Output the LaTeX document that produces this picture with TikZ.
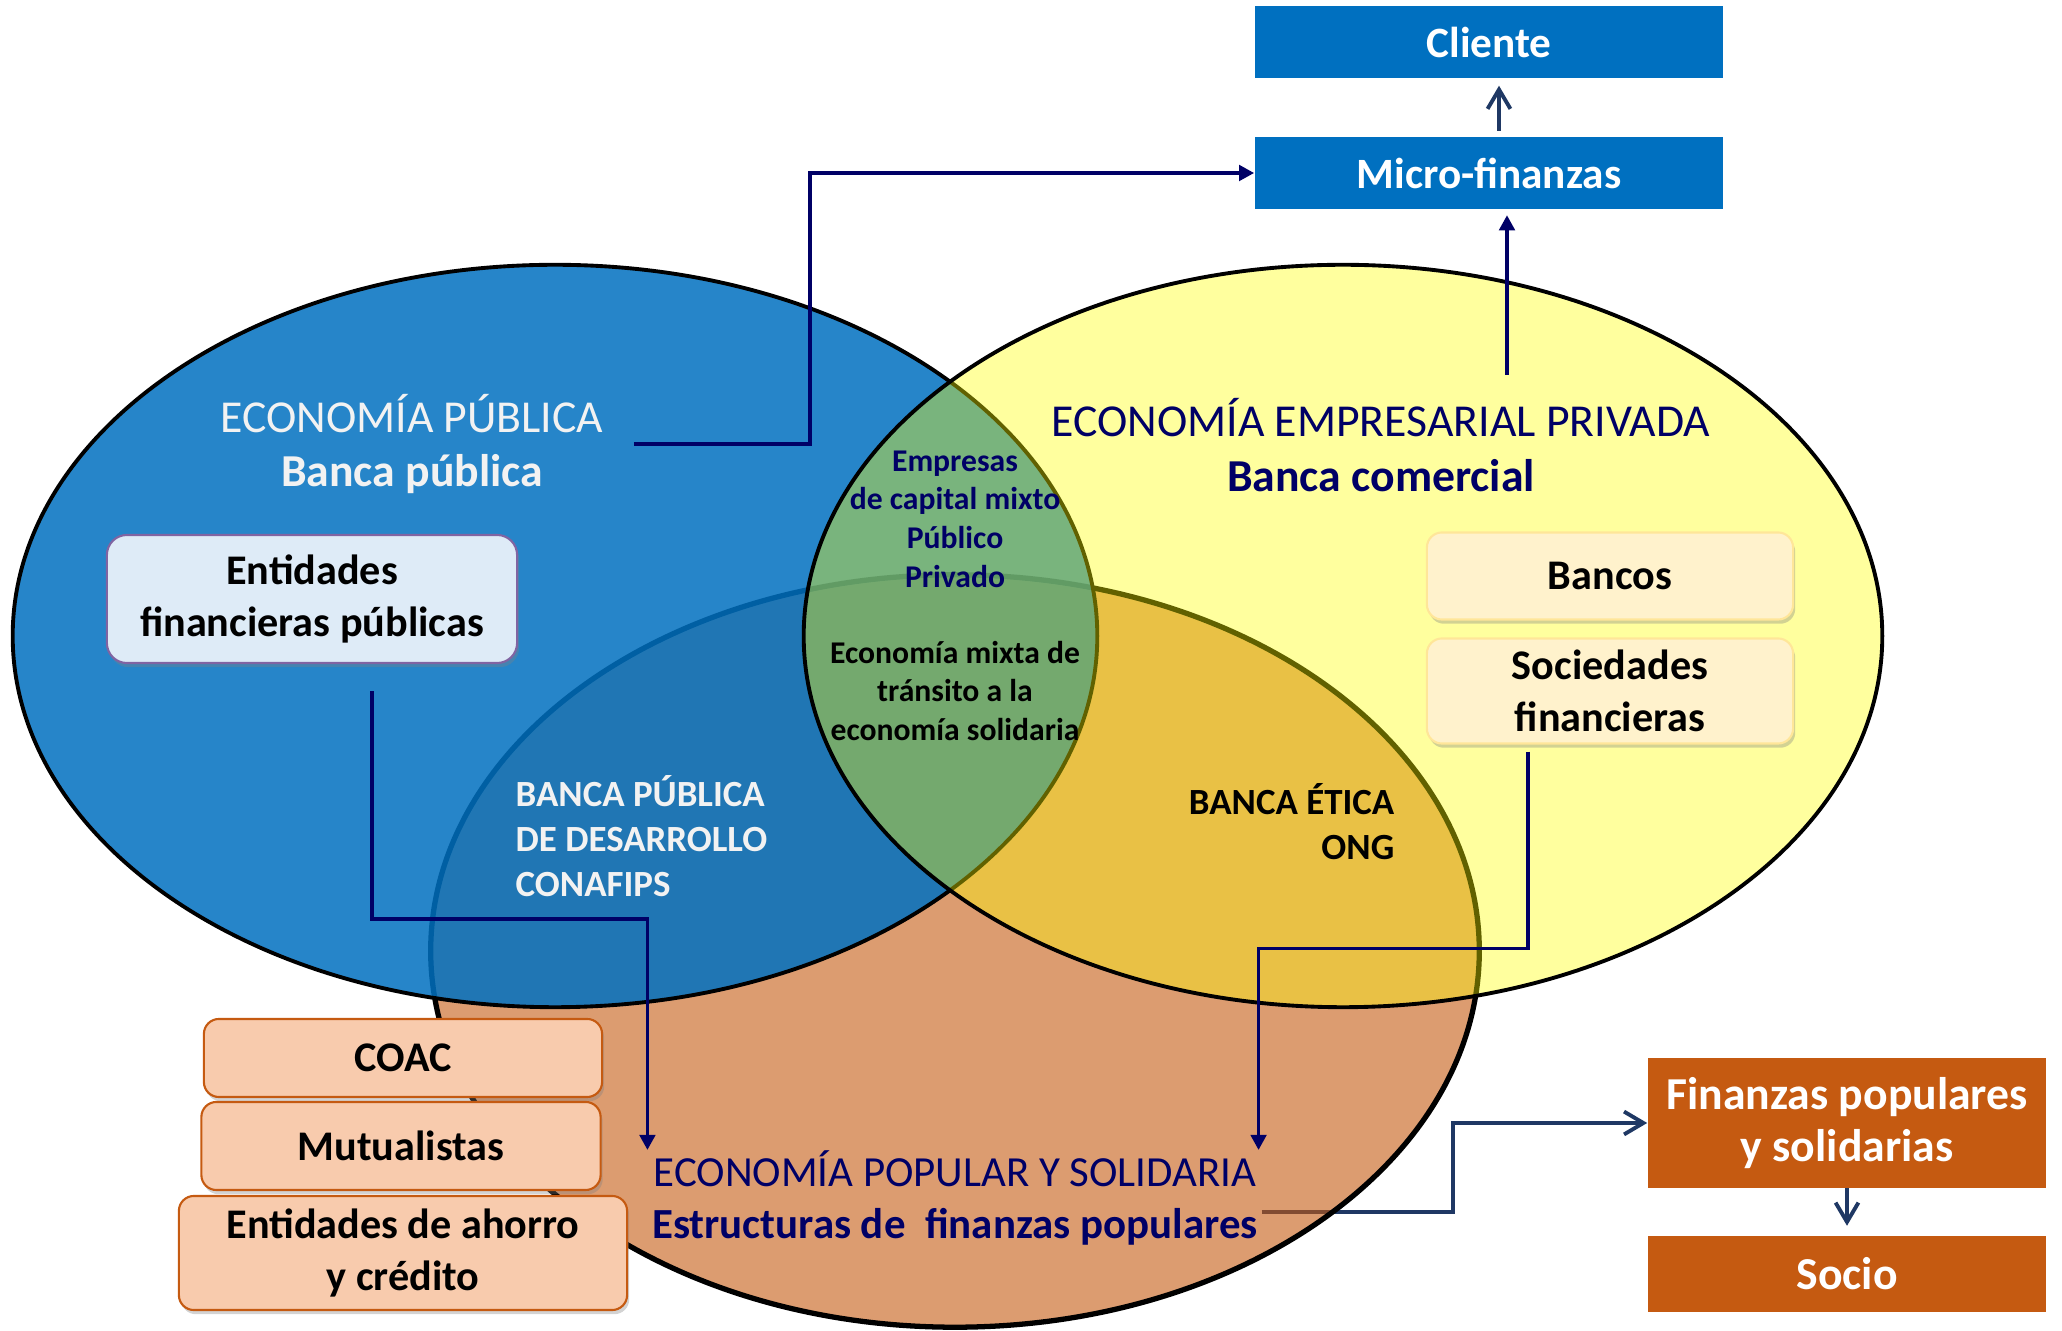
\documentclass[tikz,border=0pt]{standalone}
\usepackage{fontspec}
\setmainfont{Carlito}
\usepackage{tikz}
\usetikzlibrary{arrows.meta}
\usetikzlibrary{shadows}
\pgfdeclarelayer{background}
\pgfsetlayers{background,main}
\definecolor{pubblue}{RGB}{0,112,192}
\definecolor{privyellow}{RGB}{255,255,0}
\definecolor{popbrown}{RGB}{197,90,17}
\definecolor{navytext}{RGB}{0,0,102}
\definecolor{slate}{RGB}{31,56,100}
\definecolor{offwhite}{RGB}{242,242,242}
\definecolor{entfill}{RGB}{222,235,247}
\definecolor{entline}{RGB}{128,100,162}
\definecolor{bankfill}{RGB}{255,242,204}
\definecolor{bankline}{RGB}{255,230,153}
\definecolor{coopfill}{RGB}{248,203,173}
\tikzset{flow/.style = {draw=navytext, line width=1pt, -{Triangle[length=4.3pt, width=4.4pt]}}}
\tikzset{openflow/.style = {draw=slate, line width=1.1pt, -{Straight Barb[length=5.5pt, width=6.5pt]}}}
\tikzset{lbl/.style = {inner sep=0, align=center, font=\fontsize{13}{15.6}\selectfont}}
\tikzset{solidbox/.style = {fill=#1, text=white, inner sep=0, align=center,
                            font=\fontsize{13}{15}\selectfont\bfseries}}
\tikzset{softbox/.style = {rounded corners=0.15cm, line width=0.6pt, inner sep=0, align=center,
                           font=\fontsize{12}{14.7}\selectfont\bfseries,
                           drop shadow={shadow xshift=0.6pt, shadow yshift=-1.2pt, opacity=0.35}}}
\tikzset{pubbox/.style = {softbox, draw=entline, fill=entfill, rounded corners=0.2cm}}
\tikzset{bankbox/.style = {softbox, draw=bankline, fill=bankfill}}
\tikzset{coopbox/.style = {softbox, draw=popbrown, fill=coopfill}}

\begin{document}
\begin{tikzpicture}[x=0.01cm, y=-0.01cm]
    \useasboundingbox (0, 0) rectangle (2062, 1331);

    \node [solidbox=pubblue, font=\fontsize{12.3}{15}\selectfont\bfseries, minimum width=4.68cm, minimum height=0.72cm] (cliente) at (1489, 42) {Cliente};
    \node [solidbox=pubblue, font=\fontsize{12.3}{15}\selectfont\bfseries, minimum width=4.68cm, minimum height=0.71cm] (micro) at (1489, 173) {Micro-finanzas};
    \node [solidbox=popbrown, minimum width=3.98cm, minimum height=1.29cm] (fin) at (1847, 1123) {Finanzas populares\\y solidarias};
    \node [solidbox=popbrown, minimum width=3.98cm, minimum height=0.75cm] (socio) at (1847, 1274) {Socio};

    \node [pubbox, minimum width=4.1cm, minimum height=1.28cm] (entpub) at (312, 599) {Entidades\\financieras públicas};
    \node [bankbox, minimum width=3.66cm, minimum height=0.87cm] (bancos) at (1610, 576) {Bancos};
    \node [bankbox, minimum width=3.66cm, minimum height=1.05cm] (socfin) at (1610, 691) {Sociedades\\financieras};
    \node [coopbox, minimum width=3.98cm, minimum height=0.78cm] (coac) at (403, 1058) {COAC};
    \node [coopbox, minimum width=3.99cm, minimum height=0.88cm] (mutual) at (401, 1146) {Mutualistas};
    \node [coopbox, minimum width=4.48cm, minimum height=1.14cm] (ahorro) at (403, 1253) {Entidades de ahorro\\y crédito};

    \node [lbl, text=offwhite] (pub) at (412, 444) {ECONOMÍA PÚBLICA\\\textbf{Banca pública}};
    \node [lbl, text=navytext] (priv) at (1381, 445) {ECONOMÍA EMPRESARIAL PRIVADA\\\textbf{Banca comercial}};
    \node [lbl, text=navytext, font=\fontsize{12.2}{14.8}\selectfont] (eps) at (955, 1198) {ECONOMÍA POPULAR Y SOLIDARIA\\\textbf{Estructuras de~ finanzas populares}};
    \node [lbl, text=navytext, font=\fontsize{9}{11}\selectfont\bfseries] (mixto) at (955, 519) {Empresas\\de capital mixto\\Público\\Privado};
    \node [lbl, font=\fontsize{9}{11}\selectfont\bfseries] (transito) at (955, 691) {Economía mixta de\\tránsito a la\\economía solidaria};
    \node [lbl, text=offwhite, font=\fontsize{10.5}{12.8}\selectfont\bfseries, align=left, anchor=west] (desarrollo) at (515, 836) {BANCA PÚBLICA\\DE DESARROLLO\\CONAFIPS};
    \node [lbl, font=\fontsize{10.5}{12.8}\selectfont\bfseries, align=right, anchor=east] (etica) at (1395, 822) {BANCA ÉTICA\\ONG};

    \coordinate (privtop) at (1507, 375);
    \draw [flow] (pub.east) ++(30, 0) -- ++(176, 0) |- (micro.west);
    \draw [flow, shorten >=0.06cm] (privtop) -- (privtop |- micro.south);
    \draw [openflow, shorten <=0.06cm, shorten >=0.07cm] ([xshift=0.1cm]micro.north) -- ([xshift=0.1cm]cliente.south);
    \draw [flow] ([xshift=0.6cm, yshift=-0.27cm]entpub.south) -- ++(0, 228) -| ([xshift=-0.04cm]eps.north west);
    \draw [flow] ([xshift=-0.82cm, yshift=-0.07cm]socfin.south) -- ++(0, 197) -| (eps.north east);
    \draw [openflow, shorten >=0.1cm] (fin.south) -- (socio.north);

    \begin{pgfonlayer}{background}
    % runs under the brown ellipse, so it starts brownish
    \draw [openflow] ([yshift=-0.14cm]eps.east) ++(3, 0) -- ++(191, 0) |- (fin.west);
    \draw [line width=1.5pt, fill=popbrown, fill opacity=0.6] (955, 951) ellipse [x radius=5.24cm, y radius=3.76cm];
    \draw [line width=1.1pt, fill=pubblue, fill opacity=0.85] (555, 636) ellipse [x radius=5.42cm, y radius=3.71cm];
    \draw [line width=1.1pt, fill=privyellow, fill opacity=0.38] (1343, 636) ellipse [x radius=5.39cm, y radius=3.71cm];
    \end{pgfonlayer}
\end{tikzpicture}
\end{document}
